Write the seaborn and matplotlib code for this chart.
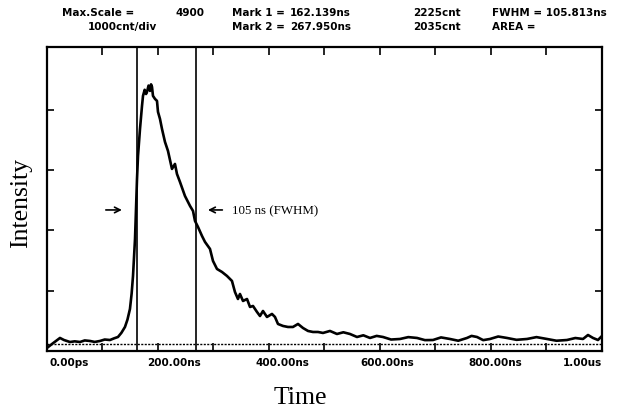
"""
plot.py

Recreate an oscilloscope style intensity vs time trace with two
marker lines and an FWHM annotation.
"""

import numpy as np
import pandas as pd
import matplotlib
matplotlib.use("Agg")
import matplotlib.pyplot as plt
import seaborn as sns

# =============================================================================
# DATA
# =============================================================================

time_ns = [
    0.0, 9.0, 16.2, 23.4, 30.6, 41.4, 50.0, 59.5, 68.0, 77.5, 86.0, 95.5,
    104.0, 113.5, 121.0, 127.9, 134.0, 140.5, 145.0, 149.5, 152.5, 155.0,
    158.6, 162.2, 164.0, 167.6, 171.2, 173.0, 176.0, 178.5, 180.2, 183.0,
    185.6, 187.5, 189.2, 191.0, 194.6, 198.2, 200.0, 203.6, 207.2, 212.6,
    218.0, 225.2, 230.6, 234.2, 239.6, 248.6, 257.7, 263.1, 266.7, 272.1,
    279.3, 284.7, 293.7, 299.1, 306.3, 315.3, 324.3, 333.3, 338.7, 344.1,
    347.7, 353.2, 360.4, 365.8, 371.2, 378.4, 383.8, 389.2, 396.4, 405.4,
    410.8, 416.2, 425.2, 434.2, 443.2, 452.3, 461.3, 470.3, 479.3, 488.3,
    497.3, 509.9, 522.5, 534.0, 545.9, 558.6, 570.0, 582.0, 594.0, 605.4,
    620.0, 636.0, 651.0, 666.7, 681.0, 695.5, 710.0, 726.1, 741.0, 756.8,
    765.0, 774.8, 786.0, 798.2, 813.0, 828.8, 846.0, 864.9, 882.0, 900.9,
    918.0, 936.9, 952.0, 965.8, 974.8, 983.8, 992.8, 1000.0,
]

counts = [
    50, 116, 166, 216, 182, 149, 160, 149, 175, 166, 150, 166,
    190, 182, 210, 232, 300, 398, 520, 697, 950, 1244,
    1857, 2852, 3234, 3682, 4063, 4229, 4330, 4260, 4295, 4400,
    4312, 4420, 4378, 4229, 4179, 4146, 3964, 3847, 3682, 3466,
    3317, 3018, 3101, 2935, 2803, 2570, 2405, 2322, 2156, 2056,
    1907, 1808, 1692, 1493, 1360, 1310, 1244, 1161, 978, 862,
    945, 829, 862, 730, 746, 647, 580, 663, 564, 614,
    564, 448, 415, 398, 398, 448, 381, 332, 315, 315,
    299, 332, 282, 310, 282, 232, 260, 216, 250, 232,
    190, 199, 230, 216, 180, 182, 225, 199, 170, 216,
    250, 232, 180, 199, 240, 216, 185, 199, 230, 199,
    170, 182, 215, 199, 265, 216, 182, 249,
]

mark_times_ns = [162.139, 267.950]

x_tick_labels = ["0.00ps", "200.00ns", "400.00ns", "600.00ns", "800.00ns", "1.00us"]

header_line1 = ["Max.Scale =", "4900", "Mark 1 =", "162.139ns", "2225cnt", "FWHM = 105.813ns"]
header_line2 = ["1000cnt/div", "Mark 2 =", "267.950ns", "2035cnt", "AREA ="]

df = pd.DataFrame({"Time": time_ns, "Intensity": counts})

# =============================================================================
# FIGURE
# =============================================================================

sns.set_style("white")
plt.rcParams["font.family"] = ["DejaVu Sans"]

fig = plt.figure(figsize=(6.24, 4.10), dpi=100)
ax = fig.add_axes([0.0753, 0.1415, 0.8894, 0.7415])

sns.lineplot(
    data=df,
    x="Time",
    y="Intensity",
    ax=ax,
    color="black",
    linewidth=1.9,
    estimator=None,
    sort=False,
)

for t in mark_times_ns:
    ax.axvline(t, color="black", linewidth=1.2)

# dotted baseline just above the bottom frame
ax.axhline(116, color="black", linewidth=1.0, linestyle=(0, (1.5, 1)))

ax.set_xlim(0, 1000)
ax.set_ylim(0, 5040)

for side in ax.spines.values():
    side.set_color("black")
    side.set_linewidth(1.6)

# ticks: every 100 ns along x, every 1000 cnt along y, all inward
ax.set_xticks(np.arange(0, 1001, 100))
ax.set_yticks([1000, 2000, 3000, 4000])
ax.tick_params(
    axis="x", direction="in", length=6, width=1.2,
    top=True, bottom=True, labelbottom=False, color="black"
)
ax.tick_params(
    axis="y", direction="in", length=5, width=1.2,
    left=True, right=True, labelleft=False, color="black"
)

ax.set_xlabel("")
ax.set_ylabel("")

# tick labels in the scope's own placement
label_left = [0.005, 0.180, 0.375, 0.564, 0.759]
for pos, lab in zip(label_left, x_tick_labels[:-1]):
    ax.text(pos, -0.036, lab, transform=ax.transAxes, ha="left", va="center",
            fontsize=7.5, fontweight="bold", color="black")
ax.text(1.0, -0.036, x_tick_labels[-1], transform=ax.transAxes, ha="right",
        va="center", fontsize=7.5, fontweight="bold", color="black")

# =============================================================================
# HEADER
# =============================================================================

line1_x = [62, 176, 232, 290, 413, 492]
line2_x = [88, 232, 290, 413, 492]
for px, txt in zip(line1_x, header_line1):
    fig.text(px / 624, 1 - 13 / 410, txt, ha="left", va="center",
             fontsize=7.5, fontweight="bold", color="black")
for px, txt in zip(line2_x, header_line2):
    fig.text(px / 624, 1 - 27 / 410, txt, ha="left", va="center",
             fontsize=7.5, fontweight="bold", color="black")

# =============================================================================
# AXIS TITLES AND FWHM NOTE
# =============================================================================

fig.text(21 / 624, 1 - 203 / 410, "Intensity", rotation=90, ha="center",
         va="center", fontsize=18.5, family="Liberation Serif", color="black")
fig.text(300 / 624, 1 - 398 / 410, "Time", ha="center", va="center",
         fontsize=18.5, family="Liberation Serif", color="black")

ax.annotate("", xy=(140, 2338), xytext=(101, 2338),
            arrowprops=dict(arrowstyle="->", color="black", lw=1.2))
ax.annotate("", xy=(285, 2338), xytext=(321, 2338),
            arrowprops=dict(arrowstyle="->", color="black", lw=1.2))
ax.text(333, 2338, "105 ns (FWHM)", ha="left", va="center",
        fontsize=9.3, family="Liberation Serif", color="black")

fig.savefig("out.png", dpi=100)
plt.close(fig)
